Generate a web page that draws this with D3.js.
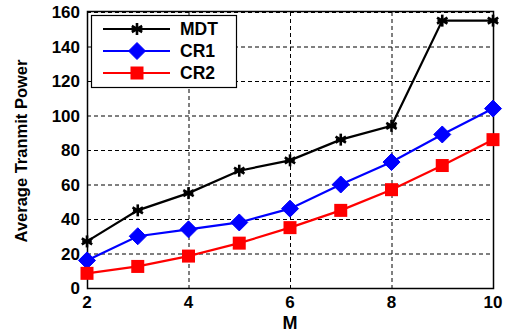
<!DOCTYPE html>
<html>
<head>
<meta charset="utf-8">
<script src="https://cdn.jsdelivr.net/npm/d3@7"></script>
<style>
  body { margin: 0; background: #fff; }
  text { font-family: "Liberation Sans", Arial, sans-serif; font-weight: bold; fill: #000; }
</style>
</head>
<body>
<svg width="512" height="334"></svg>
<script>
const mValues = [2, 3, 4, 5, 6, 7, 8, 9, 10];
const mdt = [27, 45, 55, 68, 74, 86, 94, 155, 155];
const cr1 = [16, 30, 34, 38, 46, 60, 73, 89, 104];
const cr2 = [8.5, 12.5, 18.5, 26, 35, 45, 57, 71, 86];
const xTicks = [2, 4, 6, 8, 10];
const yTicks = [0, 20, 40, 60, 80, 100, 120, 140, 160];
const seriesNames = ["MDT", "CR1", "CR2"];

const svg = d3.select("svg");
const plotL = 87, plotR = 493, plotT = 12, plotB = 288;

const x = d3.scaleLinear().domain([2, 10]).range([plotL, plotR]);
const y = d3.scaleLinear().domain([0, 160]).range([plotB, plotT]);

// grid
const grid = svg.append("g").attr("stroke", "#000").attr("stroke-width", 1)
  .attr("stroke-dasharray", "4,3");
grid.selectAll("line.h").data(yTicks.slice(1)).enter().append("line")
  .attr("x1", plotL).attr("x2", plotR)
  .attr("y1", (d) => y(d) + 0.5).attr("y2", (d) => y(d) + 0.5);
grid.selectAll("line.v").data(xTicks.slice(1, -1)).enter().append("line")
  .attr("y1", plotT).attr("y2", plotB)
  .attr("x1", (d) => x(d) + 0.5).attr("x2", (d) => x(d) + 0.5);

// frame
svg.append("rect")
  .attr("x", plotL + 0.5).attr("y", plotT - 0.5)
  .attr("width", plotR - plotL).attr("height", plotB - plotT + 1)
  .attr("fill", "none").attr("stroke", "#000").attr("stroke-width", 1.5);

// tick labels
svg.append("g").selectAll("text").data(yTicks).enter().append("text")
  .attr("x", plotL - 7).attr("y", (d) => y(d) + 6)
  .attr("text-anchor", "end").attr("font-size", 17).text((d) => d);
svg.append("g").selectAll("text").data(xTicks).enter().append("text")
  .attr("x", (d) => x(d)).attr("y", 308)
  .attr("text-anchor", "middle").attr("font-size", 17).text((d) => d);

svg.append("text").attr("x", x(6)).attr("y", 329)
  .attr("text-anchor", "middle").attr("font-size", 18).text("M");
svg.append("text")
  .attr("transform", "translate(27,151) rotate(-90)")
  .attr("text-anchor", "middle").attr("font-size", 16.5)
  .text("Average Tranmit Power");

// markers
function star(g, cx, cy, r) {
  const p = g.append("g").attr("stroke", "#000").attr("stroke-width", 2.6);
  [0, 60, 120].forEach((a) => {
    const rad = (a + 90) * Math.PI / 180;
    p.append("line")
      .attr("x1", cx - r * Math.cos(rad)).attr("y1", cy - r * Math.sin(rad))
      .attr("x2", cx + r * Math.cos(rad)).attr("y2", cy + r * Math.sin(rad));
  });
  p.append("line").attr("x1", cx - r * 0.8).attr("x2", cx + r * 0.8)
    .attr("y1", cy).attr("y2", cy);
}
function diamond(g, cx, cy, r, c) {
  g.append("path").attr("fill", c).attr("stroke", c)
    .attr("d", `M${cx},${cy - r}L${cx + r},${cy}L${cx},${cy + r}L${cx - r},${cy}Z`);
}
function square(g, cx, cy, r, c) {
  g.append("rect").attr("fill", c).attr("x", cx - r).attr("y", cy - r)
    .attr("width", 2 * r).attr("height", 2 * r);
}

const series = [
  { vals: mdt, color: "#000", mark: (g, a, b) => star(g, a, b, 6) },
  { vals: cr1, color: "#0000ff", mark: (g, a, b) => diamond(g, a, b, 8.5, "#0000ff") },
  { vals: cr2, color: "#ff0000", mark: (g, a, b) => square(g, a, b, 6.5, "#ff0000") },
];

const line = d3.line().x((d, i) => x(mValues[i])).y((d) => y(d));
series.forEach((s) => {
  svg.append("path").datum(s.vals).attr("d", line)
    .attr("fill", "none").attr("stroke", s.color).attr("stroke-width", 2.2);
  const g = svg.append("g");
  s.vals.forEach((v, i) => s.mark(g, x(mValues[i]), y(v)));
});

// legend
const lg = svg.append("g");
lg.append("rect").attr("x", 91.5).attr("y", 15.5).attr("width", 145).attr("height", 72)
  .attr("fill", "#fff").attr("stroke", "#000").attr("stroke-width", 1.2);
series.forEach((s, i) => {
  const ly = 29 + i * 22;
  lg.append("line").attr("x1", 103).attr("x2", 170).attr("y1", ly).attr("y2", ly)
    .attr("stroke", s.color).attr("stroke-width", 2.2);
  s.mark(lg, 137, ly);
  lg.append("text").attr("x", 180).attr("y", ly + 6).attr("font-size", 17.5)
    .text(seriesNames[i]);
});
</script>
</body>
</html>
